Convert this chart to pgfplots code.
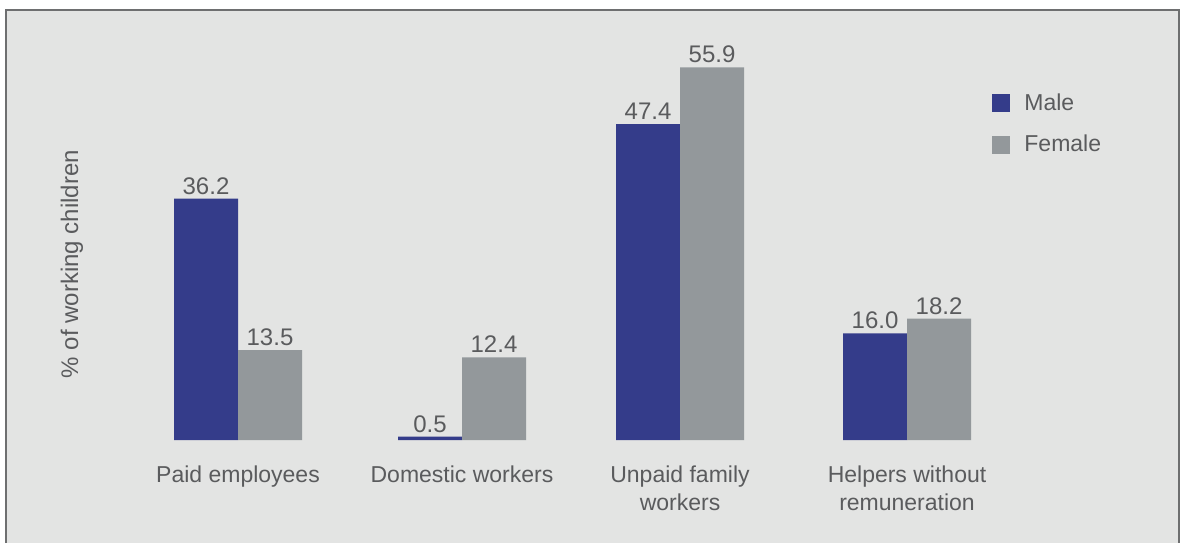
\documentclass[border=0pt]{standalone}
\usepackage{fontspec}
\setmainfont{Liberation Sans}
\usepackage{pgfplots}
\pgfplotsset{compat=1.18}
\definecolor{bg}{HTML}{E3E4E3}
\definecolor{frame}{HTML}{6E6F70}
\definecolor{male}{HTML}{343C8A}
\definecolor{female}{HTML}{93989B}
\definecolor{txt}{HTML}{5A5B5D}
\begin{document}
\begin{tikzpicture}
\useasboundingbox (0,0) rectangle (593pt,271.5pt);
\fill[bg] (3pt,0) rectangle (589.5pt,266.5pt);
\draw[frame, line width=1pt] (3pt,0) -- (3pt,266.5pt) -- (589.5pt,266.5pt) -- (589.5pt,0);
\node[rotate=90, text=txt, font=\fontsize{12}{14}\selectfont] at (36pt,139.5pt) {\% of working children};
\begin{axis}[
  at={(63.75pt,51.5pt)}, anchor=south west,
  scale only axis, width=446pt, height=200pt,
  xmin=127.5, xmax=1019.5, ymin=0, ymax=60,
  axis line style={draw=none}, tick style={draw=none},
  ytick=\empty,
  xtick={238,462,680,907},
  xticklabels={Paid employees,Domestic workers,Unpaid family\\workers,Helpers without\\remuneration},
  xticklabel style={align=center, text=txt, font=\fontsize{11.5}{14}\selectfont, yshift=-5pt},
  ybar=0pt, bar width=32pt,
  nodes near coords,
  /pgf/number format/.cd, fixed, fixed zerofill, precision=1, assume math mode=true,
  /pgfplots/.cd,
  every node near coord/.append style={text=txt, font=\fontsize{12}{14}\selectfont, inner sep=2pt},
  legend style={at={(0.9692,0.8775)}, anchor=north west, draw=none, fill=none,
    text=txt, font=\fontsize{11.5}{13}\selectfont, row sep=7pt, inner sep=0pt,
    cells={anchor=west}},
  legend image code/.code={\fill[#1] (0pt,-4.5pt) rectangle (9pt,4.5pt); \path (14pt,0pt);},
]
\addplot[fill=male, draw=none] coordinates {(238,36.2) (462,0.5) (680,47.4) (907,16.0)};
\addplot[fill=female, draw=none] coordinates {(238,13.5) (462,12.4) (680,55.9) (907,18.2)};
\legend{Male,Female}
\end{axis}
\end{tikzpicture}
\end{document}
